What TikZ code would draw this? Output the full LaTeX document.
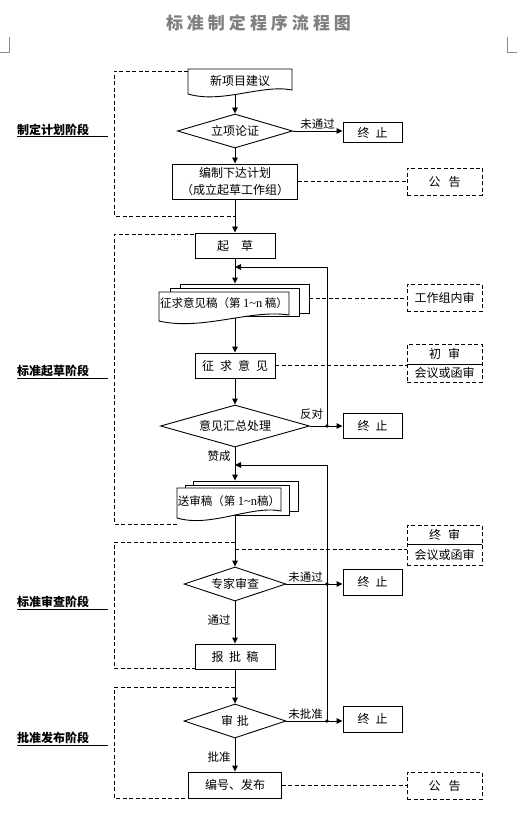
\documentclass[tikz,border=0pt]{standalone}
\usepackage{fontspec}
\setmainfont{Noto Sans CJK SC}
\newfontfamily\latinserif{Liberation Serif}
\usetikzlibrary{arrows.meta,shapes.geometric}
\begin{document}
\begin{tikzpicture}[x=1pt,y=-1pt,
  every node/.style={inner sep=0pt, font=\fontsize{12}{14}\selectfont},
  box/.style={draw, line width=0.9pt, minimum width=80pt, minimum height=25pt},
  endbox/.style={box, minimum width=59pt, minimum height=26pt},
  dbox/.style={draw, line width=0.9pt, dash pattern=on 4pt off 2.5pt, minimum width=75pt, minimum height=27pt},
  decision/.style={diamond, draw, line width=0.9pt, aspect=3, minimum width=102pt, minimum height=34pt},
  pagebox/.style={draw, fill=white, line width=0.9pt},
  flow/.style={line width=0.9pt, -{Triangle[length=6pt,width=5.5pt]}},
  dline/.style={line width=0.9pt, dash pattern=on 4pt off 2.5pt},
  solidline/.style={line width=0.9pt},
  edgelab/.style={font=\fontsize{11.5}{13}\selectfont},
  doclab/.style={font=\fontsize{11.5}{13}\selectfont},
  stagelab/.style={anchor=west, font=\bfseries\fontsize{12}{14}\selectfont},
  ulinestyle/.style={line width=1pt},
  junction/.style={circle, fill, minimum size=3.6pt},
  titletext/.style={text=black!50, font=\bfseries\fontsize{17}{18}\selectfont},
  cornermark/.style={line width=0.6pt, draw=black!45}
]
\useasboundingbox (0,0) rectangle (517,818);
\fill[white] (0,0) rectangle (517,818);

% corner marks
\draw[cornermark] (9.5,37) -- (9.5,52.5) -- (0,52.5);
\draw[cornermark] (507.5,37) -- (507.5,52.5) -- (517,52.5);

% title
\node[titletext] (ttl) at (258.5,23) {标\kern4pt 准\kern4pt 制\kern4pt 定\kern4pt 程\kern4pt 序\kern4pt 流\kern4pt 程\kern4pt 图};

% ---------- stage 1 ----------
\draw[pagebox] (188,69) -- (292,69) -- (292,90) .. controls (262,84) and (222,104) .. (188,94) -- cycle;
\node (np) at (240,81) {新项目建议};
\coordinate (npb) at (235,95.5);
\node[decision, aspect=3.4, minimum width=115pt] (lx) at (235,131) {立项论证};
\node[endbox, minimum height=20pt] (e1) at (372.5,132.5) {终\hspace{6pt}止};
\node[box, minimum width=125pt, minimum height=35pt, align=center, font=\fontsize{12}{17}\selectfont] (bz) at (235,181.5) {编制下达计划\\（成立起草工作组）};
\node[dbox] (gg1) at (444.5,181.5) {公\hspace{8pt}告};

\draw[flow] (npb) -- (lx.north);
\draw[flow] (lx.east) -- (lx.east -| e1.west);
\node[edgelab] (l1) at (317.5,124) {未通过};
\draw[flow] (lx.south) -- (bz.north);
\draw[dline] (bz.east) -- (gg1.west);
\draw[dline] (188,71) -- (114,71) -- (114,216) -- (235,216);

\node[stagelab] (s1) at (17,130) {制定计划阶段};
\coordinate (u1) at (108,137);
\draw[ulinestyle] (s1.west |- u1) -- (u1);

% ---------- stage 2 ----------
\node[box] (qc) at (235,245.5) {起\hspace{12pt}草};
\draw[flow] (bz.south) -- (qc.north);

\node[pagebox, minimum width=129pt, minimum height=29pt] (d1c) at (244.5,298.5) {};
\node[pagebox, minimum width=129pt, minimum height=28pt] (d1m) at (234.5,302) {};
\draw[pagebox] (159,292) -- (289,292) -- (289,315) .. controls (251,309) and (202,331) .. (159,321) -- cycle;
\node[doclab] (d1t) at (224,303) {征求意见稿（第 {\latinserif\fontsize{12.5}{13}\selectfont 1\symbol{126}n} 稿）};
\coordinate (d1b) at (235,318);
\node[dbox] (gz) at (444.5,297.5) {工作组内审};
\draw[dline] (d1c.east) -- (d1c.east -| gz.west);
\draw[flow] (qc.south) -- (qc.south |- d1c.north);

\node[box] (zq) at (235,365.5) {征\hspace{6pt}求\hspace{6pt}意\hspace{6pt}见};
\draw[flow] (d1b) -- (zq.north);
\node[dbox, minimum height=38pt] (cs) at (444.5,363) {};
\node (cs1) at (444.5,354) {初\hspace{7pt}审};
\node (cs2) at (444.5,373) {会议或函审};
\coordinate (cdiv) at (444.5,364);
\draw[solidline] (cdiv -| cs.west) -- (cdiv -| cs.east);
\draw[dline] (zq.east) -- (zq.east -| cs.west);

\node[decision, aspect=3.55, minimum width=149pt, minimum height=42pt] (yj) at (235,426) {意见汇总处理};
\draw[flow] (zq.south) -- (yj.north);
\node[endbox, minimum height=25pt] (e2) at (372.5,425.5) {终\hspace{6pt}止};
\draw[flow] (yj.east) -- (yj.east -| e2.west);
\node[edgelab] (l2) at (311.5,414.5) {反对};
\coordinate (j1) at (327,426);
\coordinate (m1) at (235,267);
\draw[flow] (j1) |- (m1);
\node[junction] (dot1) at (j1) {};
\node[edgelab] (l3) at (219,456.5) {赞成};

\node[pagebox, minimum width=105pt, minimum height=30pt] (d2c) at (245.5,496) {};
\node[pagebox, minimum width=104pt, minimum height=30pt] (d2m) at (237,500) {};
\draw[pagebox] (177,488) -- (281,488) -- (281,511) .. controls (251,505) and (211,528) .. (177,518) -- cycle;
\node[doclab] (d2t) at (229,501) {送审稿（第 {\latinserif\fontsize{12.5}{13}\selectfont 1\symbol{126}n}稿）};
\coordinate (d2b) at (235,514.5);
\draw[flow] (yj.south) -- (yj.south |- d2c.north);
\coordinate (m2) at (235,465);
\coordinate (j4) at (327,721);
\draw[flow] (j4) |- (m2);

\draw[dline] (194,234) -- (114,234) -- (114,524) -- (177,524);
\node[stagelab] (s2) at (17,371) {标准起草阶段};
\coordinate (u2) at (108,378);
\draw[ulinestyle] (s2.west |- u2) -- (u2);

% ---------- stage 3 ----------
\node[decision] (zj) at (235,584) {专家审查};
\draw[flow] (d2b) -- (zj.north);
\node[endbox] (e3) at (372.5,582) {终\hspace{6pt}止};
\draw[flow] (zj.east) -- (zj.east -| e3.west);
\node[edgelab] (l4) at (305.5,577) {未通过};
\coordinate (j3) at (327,584);
\node[junction] (dot3) at (j3) {};

\node[dbox, minimum height=40pt] (zs) at (444.5,545) {};
\node (zs1) at (444.5,534.5) {终\hspace{7pt}审};
\node (zs2) at (444.5,555) {会议或函审};
\coordinate (zdiv) at (444.5,544);
\draw[solidline] (zdiv -| zs.west) -- (zdiv -| zs.east);
\coordinate (c549) at (235,549);
\draw[dline] (c549) -- (c549 -| zs.west);

\node[edgelab] (l5) at (219,620) {通过};
\node[box] (bp) at (235,656.5) {报\hspace{5.5pt}批\hspace{5.5pt}稿};
\draw[flow] (zj.south) -- (bp.north);
\draw[dline] (235,542) -- (114,542) -- (114,668) -- (195,668);
\node[stagelab] (s3) at (17,602) {标准审查阶段};
\coordinate (u3) at (108,609);
\draw[ulinestyle] (s3.west |- u3) -- (u3);

% ---------- stage 4 ----------
\node[decision] (sp) at (235,721) {审\hspace{4pt}批};
\draw[flow] (bp.south) -- (sp.north);
\node[endbox] (e4) at (372.5,719) {终\hspace{6pt}止};
\draw[flow] (sp.east) -- (sp.east -| e4.west);
\node[edgelab] (l6) at (305.5,714) {未批准};
\node[junction] (dot4) at (j4) {};
\node[edgelab] (l7) at (219,757) {批准};
\node[box, minimum width=93pt, minimum height=26pt] (fb) at (235,785) {编号、发布};
\draw[flow] (sp.south) -- (fb.north);
\node[dbox] (gg2) at (444.5,785.5) {公\hspace{8pt}告};
\draw[dline] (fb.east) -- (fb.east -| gg2.west);
\draw[dline] (235,687) -- (114,687) -- (114,798) -- (188.5,798);
\node[stagelab] (s4) at (17,738) {批准发布阶段};
\coordinate (u4) at (108,745);
\draw[ulinestyle] (s4.west |- u4) -- (u4);

\end{tikzpicture}
\end{document}
